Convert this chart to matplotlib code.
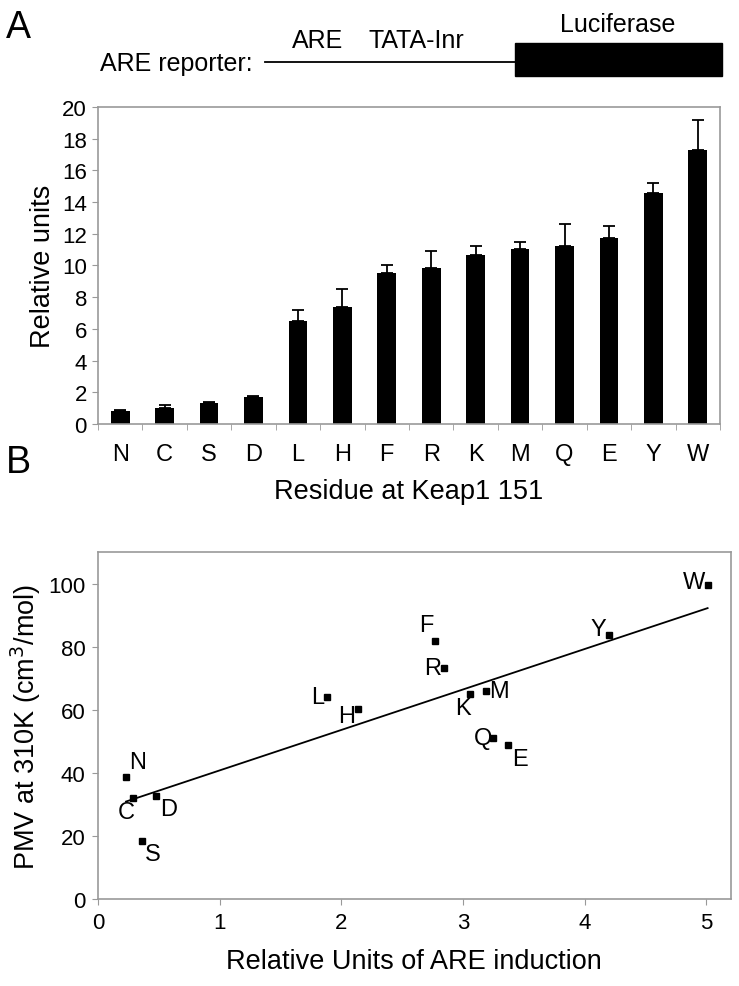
import numpy as np
import matplotlib
matplotlib.use("Agg")
import matplotlib.pyplot as plt
from matplotlib.patches import Rectangle

plt.rcParams['font.family'] = ['Liberation Sans', 'DejaVu Sans']

# Panel A: luciferase reporter activity per residue
residues = ['N', 'C', 'S', 'D', 'L', 'H', 'F', 'R', 'K', 'M', 'Q', 'E', 'Y', 'W']
rel_units = [0.8, 0.99, 1.3, 1.68, 6.5, 7.4, 9.55, 9.84, 10.64, 11.02, 11.23, 11.71, 14.57, 17.3]
rel_err = [0.08, 0.19, 0.07, 0.09, 0.7, 1.1, 0.47, 1.06, 0.56, 0.48, 1.37, 0.76, 0.65, 1.9]

# Panel B: PMV vs ARE induction
pmv_res = ['N', 'C', 'D', 'S', 'L', 'H', 'F', 'R', 'K', 'M', 'Q', 'E', 'Y', 'W']
are_induction = [0.23, 0.29, 0.48, 0.36, 1.88, 2.14, 2.77, 2.84, 3.06, 3.19, 3.25, 3.37, 4.20, 5.01]
pmv = [38.6, 31.9, 32.6, 18.3, 64.2, 60.2, 81.9, 73.3, 65.0, 66.1, 51.0, 48.9, 83.8, 99.7]

# label placement (offset in points, ha, va) for each residue in panel B
label_pos = {
    'N': ((2, 3), 'left', 'bottom'),
    'C': ((1, -2), 'right', 'top'),
    'D': ((3, -1), 'left', 'top'),
    'S': ((2, -1), 'left', 'top'),
    'L': ((-2, 0), 'right', 'center'),
    'H': ((-2, -5), 'right', 'center'),
    'F': ((-1, 3), 'right', 'bottom'),
    'R': ((-2, 0), 'right', 'center'),
    'K': ((0, -2), 'right', 'top'),
    'M': ((2, 0), 'left', 'center'),
    'Q': ((-1, 0), 'right', 'center'),
    'E': ((3, -2), 'left', 'top'),
    'Y': ((-2, 4), 'right', 'center'),
    'W': ((-2, 2), 'right', 'center'),
}

frame = '#999999'
tick_fs = 16
cat_fs = 17
lab_fs = 19.5

fig = plt.figure(figsize=(7.39, 9.87), dpi=100)

# schematic on top
ov = fig.add_axes([0, 0, 1, 1], zorder=-1)
ov.set_xlim(0, 739)
ov.set_ylim(987, 0)
ov.axis('off')
ov.text(6, 28, 'A', fontsize=27, va='center', ha='left')
ov.text(6, 463, 'B', fontsize=27, va='center', ha='left')
ov.text(100, 64, 'ARE reporter:', fontsize=18, va='center', ha='left')
ov.plot([265, 515], [63, 63], color='black', lw=1.3)
ov.add_patch(Rectangle((515, 44), 207, 33, color='black'))
ov.text(618, 25, 'Luciferase', fontsize=18, va='center', ha='center')
ov.text(318, 41, 'ARE', fontsize=18, va='center', ha='center')
ov.text(416, 41, 'TATA-Inr', fontsize=18, va='center', ha='center')

# Panel A bar chart
ax1 = fig.add_axes([0.1326, 0.5694, 0.8417, 0.3212])
x = np.arange(len(residues))
ax1.bar(x, rel_units, width=0.42, color='black',
        yerr=[np.zeros(len(rel_err)), rel_err], capsize=4.5,
        error_kw=dict(ecolor='black', elinewidth=1.3, capthick=1.3))
ax1.set_xlim(-0.5, len(residues) - 0.5)
ax1.set_ylim(0, 20)
ax1.set_yticks(np.arange(0, 21, 2))
ax1.set_xticks(x)
ax1.set_xticklabels(residues)
ax1.set_xticks(np.arange(-0.5, len(residues), 1), minor=True)
ax1.tick_params(axis='x', which='major', length=0, pad=14, labelsize=cat_fs)
ax1.tick_params(axis='x', which='minor', length=4, color=frame, direction='out')
ax1.tick_params(axis='y', length=4, color=frame, labelsize=tick_fs, pad=4)
for s in ax1.spines.values():
    s.set_color(frame)
    s.set_linewidth(1.2)
ax1.set_ylabel('Relative units', fontsize=lab_fs, labelpad=4)
ax1.set_xlabel('Residue at Keap1 151', fontsize=lab_fs, labelpad=9)

# Panel B scatter with trend line
ax2 = fig.add_axes([0.1326, 0.0881, 0.8562, 0.3516])
ax2.plot(are_induction, pmv, 's', color='black', markersize=5)
coef = np.polyfit(are_induction, pmv, 1)
xs = np.array([min(are_induction), max(are_induction)])
ax2.plot(xs, np.polyval(coef, xs), color='black', lw=1.3)
for r, xv, yv in zip(pmv_res, are_induction, pmv):
    off, ha, va = label_pos[r]
    ax2.annotate(r, (xv, yv), xytext=off, textcoords='offset points',
                 ha=ha, va=va, fontsize=cat_fs)
ax2.set_xlim(0, 5.2)
ax2.set_ylim(0, 110)
ax2.set_xticks(range(0, 6))
ax2.set_yticks(range(0, 101, 20))
ax2.tick_params(length=4, color=frame, labelsize=tick_fs, pad=5)
for s in ax2.spines.values():
    s.set_color(frame)
    s.set_linewidth(1.2)
ax2.set_ylabel('PMV at 310K (cm$^3$/mol)', fontsize=lab_fs, labelpad=4)
ax2.set_xlabel('Relative Units of ARE induction', fontsize=lab_fs, labelpad=11)

fig.savefig('out.png', dpi=100)
